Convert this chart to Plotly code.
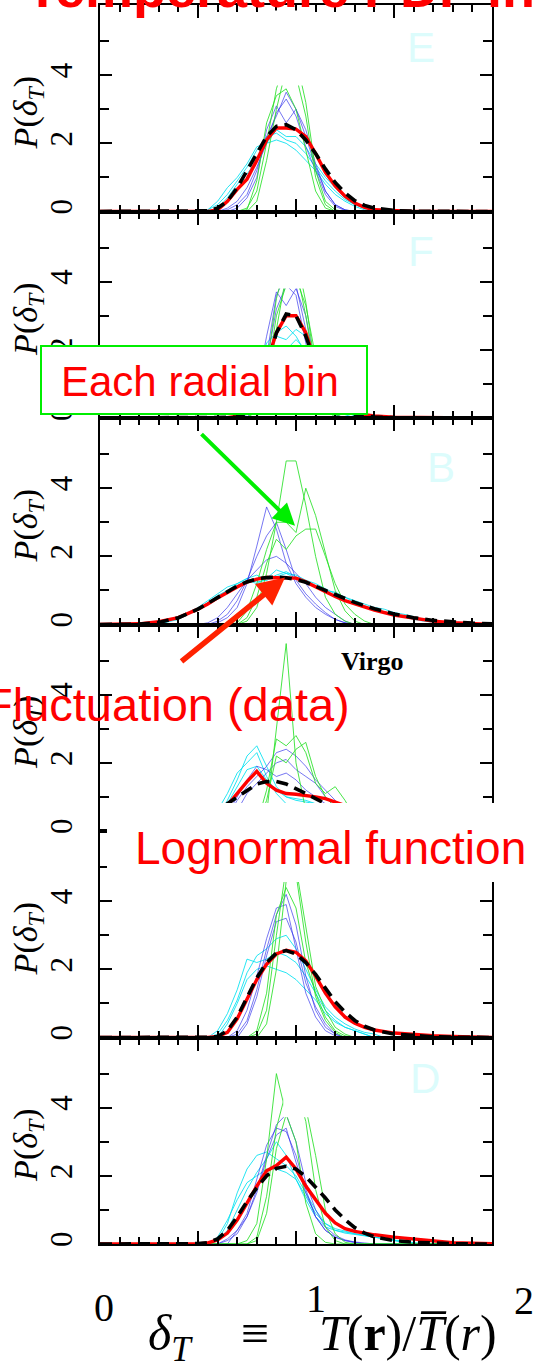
import plotly.graph_objects as go
from plotly.subplots import make_subplots

# ---------------- data ----------------
PANEL_NAMES = ["E", "F", "B", "Virgo", "C", "D"]
X_GRID = [0.0, 0.1, 0.2, 0.3, 0.4, 0.5, 0.55, 0.6, 0.65, 0.7, 0.75, 0.8, 0.85, 0.9, 0.95,
          1.0, 1.05, 1.1, 1.15, 1.2, 1.25, 1.3, 1.35, 1.4, 1.5, 1.6, 1.7, 1.8, 1.9, 2.0]

# fluctuation of the data (red, thick) on X_GRID
E_DATA = [0, 0, 0, 0, 0, 0, 0, 0.05, 0.3, 0.65, 0.95, 1.5, 2.1, 2.45, 2.45, 2.42, 2.2, 1.7, 1.15, 0.75, 0.45, 0.25, 0.12, 0.05, 0.02, 0, 0, 0, 0, 0]
F_DATA = [0, 0, 0, 0, 0, 0, 0, 0, 0.01, 0.05, 0.2, 0.7, 1.6, 2.5, 3.0, 3.0, 2.5, 1.6, 0.9, 0.45, 0.25, 0.15, 0.1, 0.06, 0.02, 0.01, 0, 0, 0, 0]
B_DATA = [0, 0, 0.02, 0.08, 0.2, 0.45, 0.6, 0.78, 0.95, 1.1, 1.25, 1.33, 1.38, 1.38, 1.37, 1.36, 1.25, 1.1, 0.95, 0.82, 0.7, 0.6, 0.5, 0.42, 0.28, 0.18, 0.1, 0.05, 0.02, 0]
V_DATA = [0, 0, 0, 0, 0.03, 0.1, 0.2, 0.4, 0.75, 1.1, 1.45, 1.75, 1.4, 1.2, 1.1, 1.08, 1.05, 1.0, 0.95, 0.85, 0.75, 0.55, 0.4, 0.25, 0.1, 0.04, 0.01, 0, 0, 0]
C_DATA = [0, 0, 0, 0, 0, 0, 0, 0.03, 0.15, 0.55, 1.1, 1.7, 2.15, 2.45, 2.56, 2.5, 2.25, 1.8, 1.3, 0.9, 0.6, 0.42, 0.3, 0.22, 0.13, 0.08, 0.05, 0.03, 0.01, 0]
D_DATA = [0, 0, 0, 0, 0, 0, 0.03, 0.12, 0.32, 0.7, 1.2, 1.7, 2.15, 2.3, 2.55, 2.2, 1.7, 1.3, 0.9, 0.62, 0.45, 0.37, 0.32, 0.27, 0.2, 0.14, 0.08, 0.04, 0.02, 0.01]

# lognormal function (black dashed) on X_GRID
E_LOGN = [0, 0, 0, 0, 0, 0.005, 0.02, 0.1, 0.3, 0.7, 1.2, 1.75, 2.2, 2.5, 2.55, 2.4, 2.1, 1.7, 1.25, 0.85, 0.55, 0.32, 0.18, 0.1, 0.03, 0.01, 0, 0, 0, 0]
F_LOGN = [0, 0, 0, 0, 0, 0, 0, 0, 0, 0.02, 0.15, 0.6, 1.5, 2.5, 3.05, 3.0, 2.4, 1.6, 0.9, 0.5, 0.25, 0.12, 0.06, 0.03, 0.01, 0, 0, 0, 0, 0]
B_LOGN = [0, 0, 0.01, 0.06, 0.2, 0.45, 0.62, 0.8, 0.98, 1.13, 1.25, 1.34, 1.38, 1.39, 1.37, 1.32, 1.24, 1.13, 1.0, 0.88, 0.76, 0.65, 0.55, 0.46, 0.31, 0.2, 0.12, 0.07, 0.04, 0.02]
V_LOGN = [0, 0, 0, 0.01, 0.05, 0.2, 0.35, 0.55, 0.8, 1.0, 1.2, 1.38, 1.45, 1.45, 1.38, 1.25, 1.1, 0.95, 0.8, 0.65, 0.52, 0.4, 0.3, 0.22, 0.12, 0.06, 0.03, 0.01, 0, 0]
C_LOGN = [0, 0, 0, 0, 0, 0, 0.005, 0.03, 0.2, 0.6, 1.15, 1.75, 2.2, 2.48, 2.55, 2.45, 2.2, 1.85, 1.45, 1.05, 0.75, 0.5, 0.33, 0.22, 0.1, 0.05, 0.02, 0.01, 0, 0]
D_LOGN = [0, 0, 0, 0, 0, 0.01, 0.04, 0.15, 0.4, 0.8, 1.25, 1.65, 2.0, 2.22, 2.28, 2.2, 1.98, 1.68, 1.35, 1.0, 0.72, 0.48, 0.32, 0.21, 0.1, 0.05, 0.02, 0.01, 0, 0]

# each radial bin: (first delta_T, values every 0.05)
BIN_STEP = 0.05
E_GREEN = [(0.75, [0.1, 0.6, 2.0, 3.6, 4.5, 4.5, 3.2, 1.2, 0.3, 0.05]),
           (0.8, [0.3, 1.5, 3.0, 4.2, 4.0, 2.8, 1.0, 0.2]),
           (0.75, [0.05, 0.9, 2.6, 3.4, 3.6, 3.0, 1.8, 0.6, 0.1])]
E_BLUE = [(0.65, [0.05, 0.2, 0.5, 1.2, 2.2, 2.8, 3.5, 3.0, 2.2, 1.3, 0.6, 0.2, 0.05]),
          (0.65, [0.1, 0.3, 0.7, 1.3, 2.0, 2.9, 3.3, 2.8, 1.9, 1.2, 0.5, 0.15, 0.03]),
          (0.7, [0.1, 0.4, 1.0, 2.4, 3.1, 2.6, 3.0, 2.4, 1.4, 0.6, 0.2, 0.05])]
E_CYAN = [(0.55, [0.05, 0.2, 0.5, 0.9, 1.3, 1.8, 2.2, 2.3, 2.1, 2.0, 1.7, 1.3, 0.9, 0.6, 0.35, 0.2, 0.1, 0.04]),
          (0.6, [0.1, 0.4, 0.8, 1.1, 1.5, 2.0, 2.4, 2.2, 2.2, 1.9, 1.4, 1.0, 0.7, 0.4, 0.2, 0.1, 0.03]),
          (0.55, [0.05, 0.3, 0.7, 1.0, 1.4, 1.9, 2.0, 2.1, 2.0, 1.8, 1.5, 1.2, 0.8, 0.5, 0.3, 0.15, 0.05])]

F_GREEN = [(0.8, [0.3, 1.5, 3.5, 4.6, 4.4, 3.0, 1.2, 0.3, 0.05]),
           (0.85, [0.8, 2.6, 4.2, 4.8, 3.4, 1.4, 0.3]),
           (0.8, [0.2, 1.1, 3.0, 3.9, 4.1, 3.3, 1.8, 0.5, 0.1])]
F_BLUE = [(0.75, [0.1, 0.6, 1.8, 3.6, 4.2, 3.9, 2.6, 1.2, 0.4, 0.1]),
          (0.75, [0.2, 0.9, 2.4, 3.7, 3.3, 3.8, 3.0, 1.5, 0.5, 0.1]),
          (0.8, [0.5, 1.6, 3.2, 3.9, 3.6, 2.2, 1.0, 0.3, 0.05])]
F_CYAN = [(0.7, [0.1, 0.4, 1.0, 1.9, 2.4, 2.3, 2.6, 2.4, 1.8, 1.1, 0.6, 0.3, 0.1]),
          (0.75, [0.3, 0.9, 1.8, 2.1, 2.0, 2.3, 2.0, 1.5, 0.9, 0.4, 0.2, 0.05]),
          (0.7, [0.05, 0.5, 1.2, 2.2, 2.5, 2.7, 2.4, 1.9, 1.2, 0.6, 0.3, 0.1])]

B_GREEN = [(0.75, [0.1, 0.5, 1.5, 3.0, 4.8, 4.8, 3.5, 2.0, 0.8, 0.3, 0.1]),
           (0.7, [0.05, 0.4, 1.2, 2.2, 3.0, 3.0, 2.7, 4.0, 3.2, 2.1, 1.0, 0.4, 0.1]),
           (0.75, [0.2, 0.8, 1.8, 2.5, 2.2, 2.6, 2.8, 2.8, 2.0, 1.2, 0.6, 0.3, 0.1])]
B_BLUE = [(0.6, [0.05, 0.2, 0.5, 1.2, 2.3, 3.45, 2.8, 1.8, 1.2, 0.8, 0.5, 0.3, 0.15, 0.05]),
          (0.6, [0.1, 0.3, 0.7, 1.3, 2.0, 2.6, 3.0, 2.2, 1.3, 0.9, 0.6, 0.35, 0.15, 0.05]),
          (0.55, [0.05, 0.2, 0.5, 0.9, 1.3, 1.6, 1.9, 2.0, 1.8, 1.5, 1.2, 0.8, 0.5, 0.3, 0.1])]
B_CYAN = [(0.3, [0.05, 0.1, 0.2, 0.35, 0.5, 0.7, 0.9, 1.1, 1.2, 1.35, 1.45, 1.3, 1.4, 1.5, 1.45, 1.3, 1.2, 1.05, 0.9, 0.8, 0.7, 0.6, 0.5, 0.45, 0.35, 0.3, 0.22, 0.16, 0.12, 0.08, 0.05]),
          (0.35, [0.1, 0.2, 0.3, 0.45, 0.65, 0.85, 1.0, 1.2, 1.35, 1.25, 1.3, 1.45, 1.55, 1.4, 1.25, 1.1, 1.0, 0.95, 0.8, 0.65, 0.55, 0.45, 0.38, 0.3, 0.22, 0.15, 0.1, 0.06, 0.04]),
          (0.3, [0.02, 0.08, 0.15, 0.3, 0.45, 0.6, 0.8, 1.0, 1.15, 1.3, 1.2, 1.35, 1.6, 1.5, 1.35, 1.2, 1.1, 0.95, 0.85, 0.7, 0.6, 0.5, 0.42, 0.35, 0.3, 0.25, 0.18, 0.12, 0.08, 0.05, 0.03])]

V_GREEN = [(0.85, [0.5, 3.0, 5.5, 2.0, 0.6, 0.2]),
           (0.8, [0.2, 1.2, 2.7, 2.5, 2.8, 2.3, 1.4, 1.1, 1.3, 0.9, 0.4, 0.1]),
           (0.8, [0.1, 0.9, 2.2, 2.0, 2.4, 2.6, 1.6, 1.0, 0.7, 0.5, 0.2])]
V_BLUE = [(0.6, [0.1, 0.4, 0.9, 1.3, 1.6, 1.9, 2.3, 2.4, 2.2, 1.9, 1.5, 1.2, 0.9, 0.6, 0.3, 0.1]),
          (0.65, [0.2, 0.6, 1.1, 1.4, 1.7, 2.0, 2.1, 1.8, 1.6, 1.4, 1.0, 0.7, 0.4, 0.15]),
          (0.6, [0.2, 0.5, 1.0, 1.5, 1.9, 1.8, 1.6, 1.7, 1.5, 1.2, 1.0, 0.8, 0.5, 0.3, 0.1])]
V_CYAN = [(0.55, [0.1, 0.4, 0.9, 1.5, 2.2, 2.5, 1.9, 1.3, 1.0, 0.9, 0.85, 0.8, 0.7, 0.55, 0.4, 0.25, 0.1]),
          (0.55, [0.2, 0.6, 1.1, 1.7, 2.0, 2.3, 1.6, 1.1, 0.8, 0.75, 0.7, 0.65, 0.55, 0.45, 0.3, 0.15, 0.05]),
          (0.6, [0.3, 0.8, 1.3, 1.8, 1.9, 1.5, 1.2, 1.0, 0.95, 0.9, 0.8, 0.6, 0.4, 0.2, 0.1])]

C_GREEN = [(0.8, [0.1, 0.8, 3.0, 5.0, 5.0, 3.2, 1.5, 0.8, 0.3, 0.1]),
           (0.85, [0.4, 2.0, 4.6, 4.8, 2.8, 1.2, 0.5, 0.15]),
           (0.8, [0.2, 1.3, 3.6, 4.4, 3.8, 2.2, 1.3, 0.6, 0.2, 0.05])]
C_BLUE = [(0.7, [0.1, 0.5, 1.4, 2.6, 3.6, 4.2, 3.3, 1.8, 0.8, 0.3, 0.1]),
          (0.7, [0.2, 0.8, 1.8, 2.9, 3.8, 3.9, 2.6, 1.3, 0.6, 0.2, 0.05]),
          (0.75, [0.4, 1.2, 2.4, 3.4, 3.5, 2.8, 1.6, 0.9, 0.4, 0.1])]
C_CYAN = [(0.6, [0.1, 0.5, 1.1, 1.9, 2.4, 2.6, 2.9, 3.0, 2.6, 2.0, 1.4, 0.9, 0.6, 0.4, 0.25, 0.15, 0.1]),
          (0.6, [0.2, 0.7, 1.4, 2.3, 2.2, 2.3, 2.5, 2.4, 2.2, 1.8, 1.3, 0.8, 0.5, 0.3, 0.2, 0.1]),
          (0.65, [0.4, 1.0, 1.7, 2.0, 2.1, 2.0, 1.9, 1.7, 1.4, 1.1, 0.7, 0.45, 0.3, 0.2, 0.1])]

D_GREEN = [(0.75, [0.1, 0.6, 2.5, 5.0, 3.8, 3.0, 1.2, 0.3, 0.05]),
           (0.8, [0.2, 1.4, 3.4, 4.5, 4.6, 3.6, 1.6, 0.5, 0.1]),
           (0.8, [0.1, 0.9, 2.8, 3.8, 4.2, 4.0, 2.6, 1.0, 0.3, 0.05])]
D_BLUE = [(0.65, [0.1, 0.3, 0.8, 1.6, 2.6, 3.5, 3.8, 3.0, 1.8, 1.0, 0.5, 0.25, 0.12, 0.06, 0.03]),
          (0.65, [0.15, 0.4, 0.9, 1.9, 2.9, 3.4, 3.3, 2.6, 1.6, 0.8, 0.4, 0.2, 0.1, 0.04]),
          (0.7, [0.4, 0.8, 1.5, 2.5, 3.2, 3.4, 2.4, 1.5, 0.8, 0.4, 0.2, 0.1, 0.05])]
D_CYAN = [(0.6, [0.1, 0.6, 1.5, 2.2, 2.6, 2.7, 2.5, 2.3, 2.0, 1.5, 1.0, 0.6, 0.4, 0.32, 0.28, 0.25, 0.2, 0.16, 0.12, 0.08, 0.05]),
          (0.6, [0.1, 0.4, 1.0, 1.6, 2.1, 2.5, 3.0, 2.6, 1.9, 1.3, 0.8, 0.5, 0.4, 0.35, 0.3, 0.25, 0.2, 0.15, 0.1, 0.06, 0.03]),
          (0.6, [0.2, 0.7, 1.3, 1.8, 2.0, 2.2, 2.2, 2.1, 1.9, 1.4, 0.9, 0.6, 0.45, 0.38, 0.3, 0.25, 0.2, 0.15, 0.1, 0.06])]

DATA = [E_DATA, F_DATA, B_DATA, V_DATA, C_DATA, D_DATA]
LOGN = [E_LOGN, F_LOGN, B_LOGN, V_LOGN, C_LOGN, D_LOGN]
GREENS = [E_GREEN, F_GREEN, B_GREEN, V_GREEN, C_GREEN, D_GREEN]
BLUES = [E_BLUE, F_BLUE, B_BLUE, V_BLUE, C_BLUE, D_BLUE]
CYANS = [E_CYAN, F_CYAN, B_CYAN, V_CYAN, C_CYAN, D_CYAN]

X_MAJOR = [0.5, 1.0, 1.5]
Y_TICKS = [0, 2, 4]
Y_TICKTEXT = ["0", "2", "4"]
Y_MINOR = [1, 3, 5]
BOTTOM_TICKS = ["0", "1", "2"]

# ---------------- figure ----------------
W, H = 537, 1361
ML, MR, MT, MB = 100, 45, 5, 117
PW, PH = W - ML - MR, H - MT - MB


def px_x(px):
    return (px - ML) / PW


def px_y(py):
    return 1 - (py - MT) / PH


fig = make_subplots(rows=6, cols=1, vertical_spacing=0)

GREEN_C = "rgba(40,225,40,0.85)"
BLUE_C = "rgba(45,45,235,0.65)"
CYAN_C = "rgba(0,225,240,0.85)"


def bin_xy(start, vals):
    xs = [round(start + i * BIN_STEP, 3) for i in range(len(vals))]
    x = [0.0, round(start - BIN_STEP, 3)] + xs + [round(xs[-1] + BIN_STEP, 3), 2.0]
    y = [0, 0] + vals + [0, 0]
    return x, y


for i in range(6):
    r = i + 1
    for group, col in ((CYANS[i], CYAN_C), (BLUES[i], BLUE_C), (GREENS[i], GREEN_C)):
        for start, vals in group:
            x, y = bin_xy(start, vals)
            fig.add_trace(go.Scatter(x=x, y=y, mode="lines", line=dict(color=col, width=1),
                                     hoverinfo="skip"), row=r, col=1)
    fig.add_trace(go.Scatter(x=X_GRID, y=DATA[i], mode="lines",
                             line=dict(color="#ff0000", width=3.4)), row=r, col=1)
    fig.add_trace(go.Scatter(x=X_GRID, y=LOGN[i], mode="lines",
                             line=dict(color="black", width=3.6, dash="12px,7px")), row=r, col=1)

serif = "Liberation Serif, DejaVu Serif, serif"
sans = "Liberation Sans, Arial, sans-serif"

fig.update_xaxes(range=[0, 2], showline=True, linewidth=2, linecolor="black", mirror="allticks",
                 ticks="inside", ticklen=13, tickwidth=1.5, tickcolor="black", tickvals=X_MAJOR,
                 showticklabels=False, showgrid=False, zeroline=False, automargin=False,
                 minor=dict(ticks="inside", ticklen=7, tickwidth=1.5, tickcolor="black",
                            dtick=0.1, tick0=0, showgrid=False))
fig.update_yaxes(range=[0, 6.06], showline=True, linewidth=2, linecolor="black", mirror="allticks",
                 ticks="inside", ticklen=12, tickwidth=1.5, tickcolor="black",
                 tickvals=Y_TICKS, ticktext=Y_TICKTEXT, tickangle=-90,
                 tickfont=dict(family=serif, size=31, color="black"), ticklabelstandoff=14,
                 showgrid=False, zeroline=False, automargin=False,
                 minor=dict(ticks="inside", ticklen=9, tickwidth=1.5, tickcolor="black",
                            tickvals=Y_MINOR, showgrid=False))

annotations = []
shapes = []

# y-axis titles
for i in range(6):
    yref = "y domain" if i == 0 else f"y{i + 1} domain"
    annotations.append(dict(text="<i>P</i>(<i>δ</i><sub><i>T</i></sub>)", xref="paper", yref=yref,
                            x=px_x(28), y=0.48, xanchor="center", yanchor="middle", textangle=-90,
                            showarrow=False, font=dict(family=serif, size=34, color="black")))

# panel labels
LABEL_POS = {"E": (1.64, 4.8), "F": (1.64, 4.9), "B": (1.74, 4.6), "D": (1.66, 4.85)}
for i, name in enumerate(PANEL_NAMES):
    xr = "x" if i == 0 else f"x{i + 1}"
    yr = "y" if i == 0 else f"y{i + 1}"
    if name in LABEL_POS:
        lx, ly = LABEL_POS[name]
        annotations.append(dict(text=name, x=lx, y=ly, xref=xr, yref=yr, showarrow=False,
                                xanchor="center", yanchor="middle",
                                font=dict(family=sans, size=42, color="#dcfcfc")))
    if name == "Virgo":
        annotations.append(dict(text="<b>Virgo</b>", x=1.39, y=4.97, xref=xr, yref=yr, showarrow=False,
                                xanchor="center", yanchor="middle",
                                font=dict(family=serif, size=26, color="black")))

# white clipping boxes over the tallest narrow peaks
CLIP = [("x", "y", 0.86, 1.08, 3.7), ("x2", "y2", 0.85, 1.1, 3.8), ("x6", "y6", 0.935, 1.08, 3.72)]
for xr, yr, x0, x1, y0 in CLIP:
    shapes.append(dict(type="rect", xref=xr, yref=yr, x0=x0, x1=x1, y0=y0, y1=5.9,
                       fillcolor="white", line=dict(width=0), layer="above"))

# box behind "Lognormal function"
shapes.append(dict(type="rect", xref="paper", yref="paper", x0=px_x(107), x1=px_x(540),
                   y0=px_y(882), y1=px_y(803), fillcolor="white", line=dict(width=0), layer="above"))
# box for "Each radial bin"
shapes.append(dict(type="rect", xref="paper", yref="paper", x0=px_x(41), x1=px_x(367),
                   y0=px_y(414), y1=px_y(346), fillcolor="white",
                   line=dict(color="#00ee00", width=2), layer="above"))

annotations.append(dict(text="Each radial bin", xref="paper", yref="paper", x=px_x(200), y=px_y(381),
                        xanchor="center", yanchor="middle",
                        showarrow=False, font=dict(family=sans, size=42, color="#ff0000")))
annotations.append(dict(text="Fluctuation (data)", xref="paper", yref="paper", x=px_x(167), y=px_y(704),
                        xanchor="center", yanchor="middle",
                        showarrow=False, font=dict(family=sans, size=47, color="#ff0000")))
annotations.append(dict(text="Lognormal function", xref="paper", yref="paper", x=px_x(133), y=px_y(848),
                        xanchor="left", yanchor="middle",
                        showarrow=False, font=dict(family=sans, size=46, color="#ff0000")))

# arrows
annotations.append(dict(text="", x=0.995, y=2.9, xref="x3", yref="y3", ax=-95, ay=-93,
                        showarrow=True, arrowhead=2, arrowsize=1.1, arrowwidth=4, arrowcolor="#00ee00",
                        standoff=0))
annotations.append(dict(text="", x=0.944, y=1.38, xref="x3", yref="y3", ax=-105, ay=85,
                        showarrow=True, arrowhead=2, arrowsize=1.0, arrowwidth=5.5, arrowcolor="#ff2200",
                        standoff=0))

# title (cut by the top of the page)
annotations.append(dict(text="<b>Temperature PDF in</b>", xref="paper", yref="paper", x=px_x(24),
                        y=px_y(20), xanchor="left", yanchor="bottom", showarrow=False,
                        font=dict(family=sans, size=54, color="#ff0000")))

# bottom tick labels and axis formula
for lab, (cx, cy) in zip(BOTTOM_TICKS, [(104, 1307), (316, 1298), (524, 1300)]):
    annotations.append(dict(text=lab, xref="paper", yref="paper", x=px_x(cx), y=px_y(cy),
                            xanchor="center", yanchor="middle",
                            showarrow=False, font=dict(family=serif, size=40, color="black")))
annotations.append(dict(text="<i>δ</i><sub><i>T</i></sub>&nbsp;&nbsp;&nbsp;&nbsp;≡&nbsp;&nbsp;&nbsp;&nbsp;"
                             "<i>T</i>(<b>r</b>)/<i>T̅</i>(<i>r</i>)",
                        xref="paper", yref="paper", x=px_x(322), y=px_y(1337), showarrow=False,
                        xanchor="center", yanchor="middle",
                        font=dict(family=serif, size=50, color="black")))

fig.update_layout(width=W, height=H, margin=dict(l=ML, r=MR, t=MT, b=MB, autoexpand=False),
                  paper_bgcolor="white", plot_bgcolor="white", showlegend=False,
                  annotations=annotations, shapes=shapes)

fig.write_html("out.html", config={"displayModeBar": False},
               post_script="document.body.style.margin='0px';")
